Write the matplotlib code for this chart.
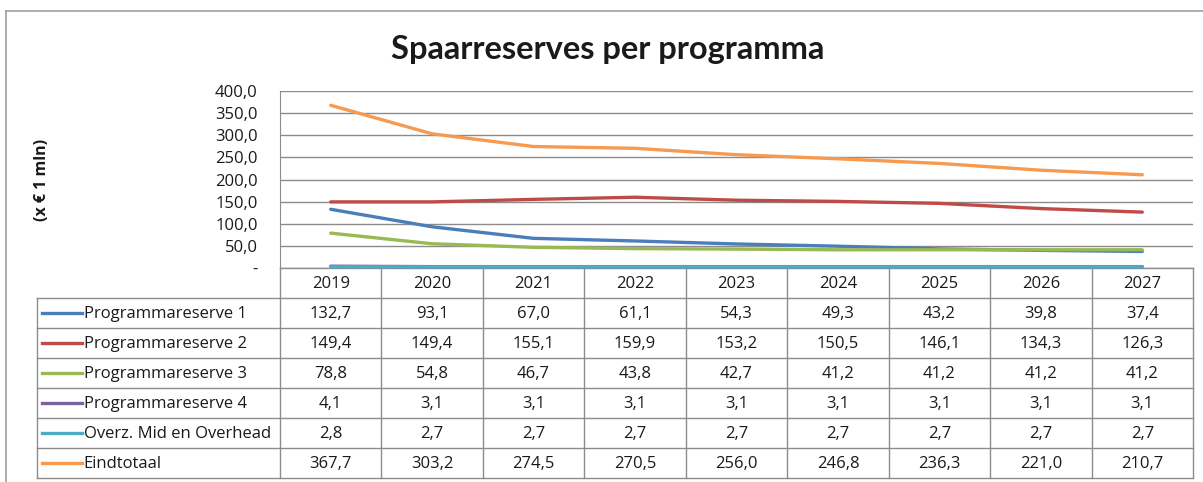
import matplotlib
matplotlib.use("Agg")
import matplotlib.pyplot as plt

# data
years = ["2019", "2020", "2021", "2022", "2023", "2024", "2025", "2026", "2027"]
series_names = ["Programmareserve 1", "Programmareserve 2", "Programmareserve 3",
                "Programmareserve 4", "Overz. Mid en Overhead", "Eindtotaal"]
reserve1 = [132.7, 93.1, 67.0, 61.1, 54.3, 49.3, 43.2, 39.8, 37.4]
reserve2 = [149.4, 149.4, 155.1, 159.9, 153.2, 150.5, 146.1, 134.3, 126.3]
reserve3 = [78.8, 54.8, 46.7, 43.8, 42.7, 41.2, 41.2, 41.2, 41.2]
reserve4 = [4.1, 3.1, 3.1, 3.1, 3.1, 3.1, 3.1, 3.1, 3.1]
overhead = [2.8, 2.7, 2.7, 2.7, 2.7, 2.7, 2.7, 2.7, 2.7]
totaal = [367.7, 303.2, 274.5, 270.5, 256.0, 246.8, 236.3, 221.0, 210.7]
yticks = [0, 50, 100, 150, 200, 250, 300, 350, 400]

all_series = [reserve1, reserve2, reserve3, reserve4, overhead, totaal]
colors = ["#4A7EBB", "#BE4B48", "#98B954", "#7D60A0", "#4BACC6", "#F59A50"]

plt.rcParams['font.family'] = ['Open Sans', 'DejaVu Sans']

W, H = 1203, 482
fig = plt.figure(figsize=(W / 100, H / 100), dpi=100)
grid_col = "#8c8c8c"
txt_col = "#1a1a1a"
fs = 12


def box(l, t, r, b):
    return [l / W, 1 - b / H, (r - l) / W, (b - t) / H]


# outer frame (only left and top visible in the crop)
fig.add_artist(plt.Line2D([6 / W, 6 / W], [1 - 11 / H, 0], color="#a0a0a0", lw=1.2))
fig.add_artist(plt.Line2D([6 / W, 1], [1 - 11 / H, 1 - 11 / H], color="#a0a0a0", lw=1.2))

fig.text(608 / W, 1 - 50 / H, "Spaarreserves per programma", ha="center", va="center",
         fontsize=23.5, fontweight="bold", color=txt_col, family=["Lato", "DejaVu Sans"])
fig.text(42 / W, 1 - 180 / H, "(x € 1 mln)", rotation=90, ha="center", va="center",
         fontsize=11.5, fontweight="bold", color=txt_col)

# data table (drawn below the line plot)
col_w = 913 / len(years)
xmin = -0.5 - (280 - 37) / col_w
tb = fig.add_axes(box(37, 268, 1193, 478))
tb.set_zorder(1)
tb.set_xlim(xmin, len(years) - 0.5)
tb.set_ylim(7, 0)
tb.axis("off")
xr = len(years) - 0.5
tb.plot([-0.5, xr], [0, 0], color=grid_col, lw=1, clip_on=False)
for r in range(1, 8):
    tb.plot([xmin, xr], [r, r], color=grid_col, lw=1, clip_on=False)
for k in range(len(years) + 1):
    tb.plot([k - 0.5, k - 0.5], [0, 7], color=grid_col, lw=1, clip_on=False)
tb.plot([xmin, xmin], [1, 7], color=grid_col, lw=1, clip_on=False)

for i, yr in enumerate(years):
    tb.text(i, 0.55, yr, ha="center", va="center", fontsize=fs, color=txt_col)
for r, (name, vals, c) in enumerate(zip(series_names, all_series, colors), start=1):
    tb.plot([xmin + 0.05, xmin + 0.44], [r + 0.5, r + 0.5], color=c, lw=2.4, clip_on=False)
    tb.text(xmin + 0.46, r + 0.55, name, ha="left", va="center", fontsize=fs, color=txt_col)
    for i, v in enumerate(vals):
        tb.text(i, r + 0.55, f"{v:.1f}".replace(".", ","), ha="center", va="center",
                fontsize=fs, color=txt_col)

# line plot
ax = fig.add_axes(box(280, 91, 1193, 268))
ax.set_zorder(2)
x = list(range(len(years)))
for vals, c in zip(all_series, colors):
    ax.plot(x, vals, color=c, lw=2.4, solid_capstyle="round", zorder=3, clip_on=False)
ax.set_xlim(-0.5, len(years) - 0.5)
ax.set_ylim(0, 400)
ax.set_yticks(yticks)
ax.set_yticklabels(["-"] + [f"{v:.1f}".replace(".", ",") for v in yticks[1:]])
ax.set_xticks([])
ax.tick_params(axis="y", length=0, pad=16, labelsize=fs, labelcolor=txt_col)
ax.grid(axis="y", color=grid_col, lw=1)
for s in ["top", "right", "bottom"]:
    ax.spines[s].set_visible(False)
ax.spines["left"].set_color(grid_col)
ax.patch.set_alpha(0)

fig.savefig("out.png", dpi=100)
